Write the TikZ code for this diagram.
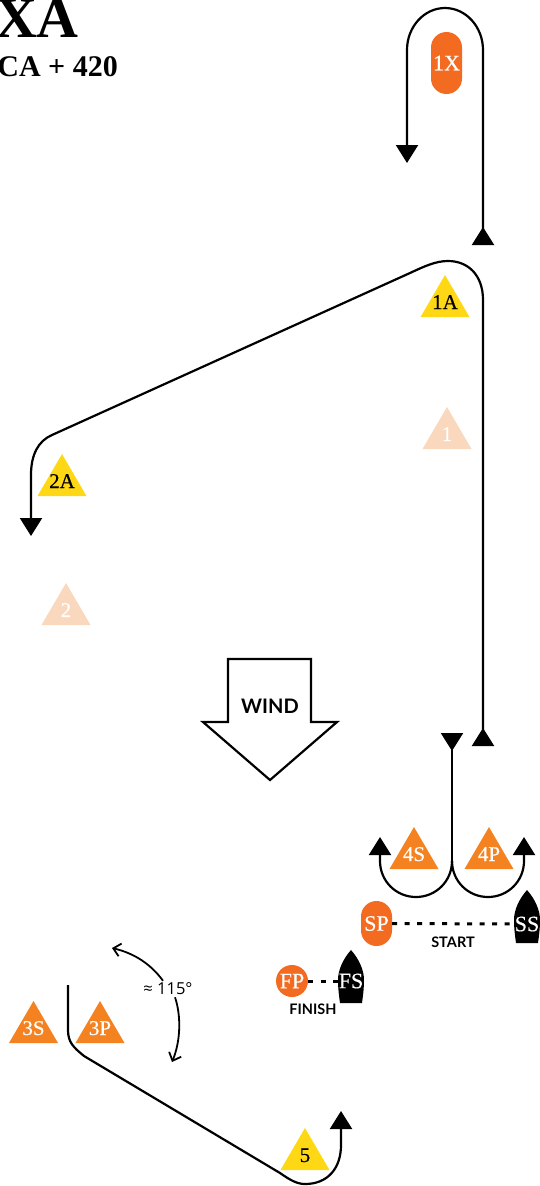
\documentclass[tikz,border=0pt]{standalone}
\usepackage{fontspec}
\setmainfont{Liberation Serif}
\newfontfamily\markfont[FakeBold=0.4]{Liberation Serif}
\newfontfamily\labelfont{Lato}
\newfontfamily\anglefont{Open Sans}
\usepackage{tikz}
\usetikzlibrary{shapes.geometric, arrows.meta, positioning}

\definecolor{markyellow}{HTML}{FFD815}
\definecolor{markorange}{HTML}{F58220}
\definecolor{markpale}{HTML}{F9D8BD}
\definecolor{startorange}{HTML}{F26B21}

\begin{document}
\begin{tikzpicture}[
  x=1pt, y=-1pt,
  leg/.style={line width=2.2pt, draw=black},
  bigtip/.style={-{Triangle[width=22pt, length=18pt]}},
  bothtips/.style={{Triangle[width=22pt, length=18pt, reversed]}-{Triangle[width=22pt, length=18pt]}},
  starttip/.style={{Triangle[width=22pt, length=18pt, reversed]}-},
  angletip/.style={-{Straight Barb[length=7pt, width=13pt, line width=1.8pt]}, line width=1.8pt},
  tri/.style n args={3}{isosceles triangle, isosceles triangle stretches, shape border rotate=90,
    minimum width=49pt, minimum height=42pt, inner sep=0pt, outer sep=0pt, anchor=apex, fill=#1,
    label={[font=\markfont\fontsize{21}{21}\selectfont, text=#2, anchor=base, yshift=8pt]south:#3}},
  yellowmark/.style={tri={markyellow}{black}{#1}},
  orangemark/.style={tri={markorange}{white}{#1}},
  palemark/.style={tri={markpale}{white}{#1}},
  roundmark/.style={rounded corners=15.5pt, fill=startorange, text=white, inner sep=0pt,
    minimum width=31pt, font=\markfont\fontsize{22}{22}\selectfont},
  boattext/.style={text=white, inner sep=0pt, font=\markfont\fontsize{22}{22}\selectfont},
  linelabel/.style={inner sep=0pt, font=\labelfont\bfseries\fontsize{14.5}{15}\selectfont},
  lineup/.style={line width=3pt, dash pattern=on 5pt off 7.5pt},
  pics/boat/.style={code={
    \fill (0,0) .. controls (8,9) and (13,20) .. (13,30) .. controls (13,38) and (12,46) .. (11,53)
      -- (-11,53) .. controls (-12,46) and (-13,38) .. (-13,30) .. controls (-13,20) and (-8,9) .. (0,0) -- cycle;
  }}
]
\useasboundingbox (0,0) rectangle (540,1186);

% title
\node[anchor=base east, inner sep=0pt, font=\bfseries\fontsize{58}{58}\selectfont] (title) at (79,37) {XA};
\node[anchor=base east, inner sep=0pt, font=\bfseries\fontsize{30}{30}\selectfont] (subtitle) at (118,76) {CA + 420};

% marks
\node[roundmark, minimum height=62pt] (m1X) at (446.5,63) {1X};
\node[yellowmark=1A] (m1A) at (445,275) {};
\node[palemark=1] (m1) at (447,407) {};
\node[yellowmark=2A] (m2A) at (62,454) {};
\node[palemark=2] (m2) at (66,583) {};
\node[orangemark=4S] (m4S) at (414,827) {};
\node[orangemark=4P] (m4P) at (489,827) {};
\node[orangemark=3S] (m3S) at (33.5,1001) {};
\node[orangemark=3P] (m3P) at (100,1001) {};
\node[yellowmark=5] (m5) at (305,1128) {};

% wind
\draw[line width=2.2pt, miter limit=4] (228,659) -- (311,659) -- (311,722) -- (337,722) -- (270,780) -- (203,722) -- (228,722) -- cycle;
\node[font=\labelfont\bfseries\fontsize{20}{20}\selectfont, inner sep=0pt] (wind) at (270,706) {WIND};

% start and finish
\pic at (527,890) {boat};
\pic at (351,950) {boat};
\node[roundmark, minimum height=45pt] (SP) at (376.5,923.5) {SP};
\node[circle, fill=startorange, text=white, inner sep=0pt, minimum size=32pt, font=\markfont\fontsize{22}{22}\selectfont] (FP) at (292,981) {FP};
\node[boattext] (SS) at (527,924) {SS};
\node[boattext] (FS) at (351,981) {FS};
\draw[lineup] (SP.east) -- (SS.west);
\draw[lineup] (FP.east) -- (FS.west);
\node[linelabel] (startlabel) at (453,942) {START};
\node[linelabel] (finishlabel) at (313,1009) {FINISH};

% course legs
\coordinate (leg1a) at (483,245);
\coordinate (leg1b) at (407,163);
\draw[leg, bothtips] (leg1a) -- (483,50) .. controls (483,27) and (466,8) .. (445,8) .. controls (424,8) and (407,27) .. (407,50) -- (leg1b);

\coordinate (leg2a) at (483,746);
\coordinate (leg2b) at (31,536);
\draw[leg, bothtips] (leg2a) -- (483,300) .. controls (483,275) and (468,261) .. (448,261) .. controls (436,261) and (425,266) .. (410,273)
  -- (52,435) .. controls (38,441) and (31,455) .. (31,475) -- (leg2b);

\coordinate (leg4top) at (452,733);
\coordinate (leg4S) at (380,837);
\coordinate (leg4P) at (524,837);
\draw[leg, starttip] (leg4top) -- (452,861);
\draw[leg, bigtip] (452,861) .. controls (452,881) and (436,897) .. (416,897) .. controls (396,897) and (380,881) .. (380,861) -- (leg4S);
\draw[leg, bigtip] (452,861) .. controls (452,881) and (468,897) .. (488,897) .. controls (508,897) and (524,881) .. (524,861) -- (leg4P);

\coordinate (leg3a) at (68,985);
\coordinate (leg3b) at (341,1111);
\draw[leg, bigtip] (leg3a) -- (68,1030) .. controls (68,1042) and (73,1047) .. (84,1056) -- (280,1173) .. controls (290,1180) and (297,1184) .. (305,1184)
  .. controls (328,1184) and (341,1168) .. (341,1145) -- (leg3b);

% angle
\node[font=\anglefont\fontsize{16.5}{17}\selectfont, inner sep=0pt] (angle) at (168,989) {≈ 115°};
\draw[angletip] (angle.north) ++(-5,-2) .. controls (150,963) and (133,953) .. (112,948);
\draw[angletip] (angle.south) ++(7,2) .. controls (181,1015) and (181,1040) .. (172,1062);
\end{tikzpicture}
\end{document}
